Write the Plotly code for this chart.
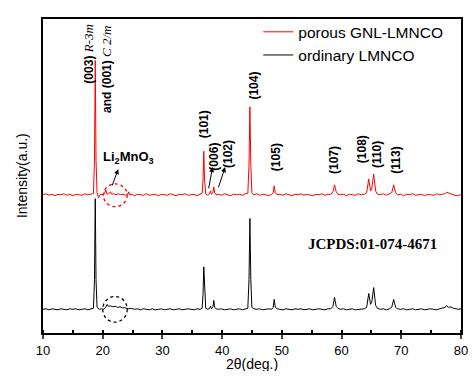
import plotly.graph_objects as go

# ---------------- data ----------------
# intensities are relative to each pattern's own baseline (a.u.)
black_2theta = [10, 10.5, 11, 11.5, 12, 12.5, 13, 13.5, 14, 14.5, 15, 15.5, 16, 16.5, 17, 17.5, 18,
                18.45, 18.62, 18.75, 18.88, 19.05, 19.4, 19.8, 20.2, 20.5, 20.75, 20.95, 21.3, 21.7,
                22.1, 22.5, 22.9, 23.3, 23.8, 24.3, 24.8, 25.3, 25.8, 26.3, 26.8, 27.3, 27.8, 28.3,
                28.8, 29.3, 29.8, 30.3, 30.8, 31.3, 31.8, 32.3, 32.8, 33.3, 33.8, 34.3, 34.8, 35.3,
                35.8, 36.3, 36.65, 36.8, 36.93, 37.06, 37.25, 37.6, 37.9, 38.05, 38.2, 38.45, 38.6,
                38.75, 39.0, 39.4, 39.9, 40.4, 40.9, 41.4, 41.9, 42.4, 42.9, 43.4, 43.9, 44.3, 44.5,
                44.65, 44.8, 44.98, 45.3, 45.8, 46.3, 46.8, 47.3, 47.8, 48.3, 48.55, 48.72, 48.9,
                49.2, 49.7, 50.2, 50.7, 51.2, 51.7, 52.2, 52.7, 53.2, 53.7, 54.2, 54.7, 55.2, 55.7,
                56.2, 56.7, 57.2, 57.7, 58.2, 58.55, 58.82, 59.1, 59.4, 59.8, 60.3, 60.8, 61.3,
                61.8, 62.3, 62.8, 63.3, 63.8, 64.2, 64.55, 64.85, 65.05, 65.38, 65.7, 66.0, 66.5,
                67, 67.5, 68, 68.4, 68.72, 69.05, 69.4, 69.9, 70.4, 70.9, 71.4, 71.9, 72.4, 72.9,
                73.4, 73.9, 74.4, 74.9, 75.4, 75.9, 76.4, 76.9, 77.3, 77.6, 77.9, 78.3, 78.7, 79.2,
                79.6, 80]
black_int = [0, 0.5, -0.5, 0.5, 0, -0.5, 0.5, 0, -0.5, 0.5, 0, 0.5, -0.5, 0, 0.5, -0.5, 0.5,
             1, 30, 112, 30, 2, 0, 0.5, 0, 2, 5, 3, 3.5, 2.5,
             3, 2, 2.5, 1.5, 1.5, 0.5, 1, 0, 0.5, -0.5, 0.5, 0, -0.5, 0.5,
             -0.5, 0, 0.5, -0.5, 0, 0.5, -0.5, 0, 0.5, -0.5, 0, 0.5, 0, -0.5,
             0.5, 0, 1, 15, 43, 15, 1, 0, 1, 3, 0.5, 2, 9,
             2, 0.5, 0, 0.5, -0.5, 0, 0.5, -0.5, 0, 0.5, -0.5, 0.5, 1, 30,
             92, 30, 2, 0.5, 0, 0.5, -0.5, 0, 0.5, 0, 2, 10, 2,
             0.5, 0, -0.5, 0.5, 0, -0.5, 0.5, 0, 0.5, -0.5, 0, 0.5, -0.5, 0,
             0.5, 0, -0.5, 0.5, 0.5, 3, 12, 3, 1, 0, 0.5, -0.5, 0,
             0.5, -0.5, 0, 0.5, 0.5, 2, 16, 5, 7, 22, 4, 1, 0,
             0.5, -0.5, 0.5, 2, 10, 2, 0.5, 0, 0.5, -0.5, 0, 0.5, -0.5, 0,
             0.5, -0.5, 0, 0.5, 0, -0.5, 0.5, 1, 2, 3.5, 2, 2.5, 1, 0.5,
             0, 0.5]

red_2theta = [10, 10.5, 11, 11.5, 12, 12.5, 13, 13.5, 14, 14.5, 15, 15.5, 16, 16.5, 17, 17.5, 18,
              18.45, 18.62, 18.75, 18.88, 19.05, 19.3, 19.6, 20.0, 20.3, 20.5, 20.7, 20.9, 21.1,
              21.3, 21.5, 21.8, 22.2, 22.6, 23.0, 23.4, 23.8, 24.2, 24.35, 24.5, 24.9, 25.3, 25.8,
              26.3, 26.8, 27.3, 27.8, 28.3, 28.8, 29.3, 29.8, 30.3, 30.8, 31.3, 31.8, 32.3, 32.8,
              33.3, 33.8, 34.3, 34.8, 35.3, 35.8, 36.3, 36.65, 36.8, 36.93, 37.06, 37.25, 37.6,
              37.9, 38.05, 38.2, 38.45, 38.6, 38.75, 39.0, 39.4, 39.9, 40.4, 40.9, 41.4, 41.9,
              42.4, 42.9, 43.4, 43.9, 44.3, 44.5, 44.65, 44.8, 44.98, 45.3, 45.8, 46.3, 46.8,
              47.3, 47.8, 48.3, 48.55, 48.72, 48.9, 49.2, 49.7, 50.2, 50.7, 51.2, 51.7, 52.2,
              52.7, 53.2, 53.7, 54.2, 54.7, 55.2, 55.7, 56.2, 56.7, 57.2, 57.7, 58.2, 58.55,
              58.82, 59.1, 59.4, 59.8, 60.3, 60.8, 61.3, 61.8, 62.3, 62.8, 63.3, 63.8, 64.2,
              64.55, 64.85, 65.05, 65.38, 65.7, 66.0, 66.5, 67, 67.5, 68, 68.4, 68.72, 69.05,
              69.4, 69.9, 70.4, 70.9, 71.4, 71.9, 72.4, 72.9, 73.4, 73.9, 74.4, 74.9, 75.4, 75.9,
              76.4, 76.9, 77.3, 77.6, 77.9, 78.3, 78.7, 79.2, 79.6, 80]
red_int = [0, 1, -0.5, 0.5, -1, 0.5, 0, 1, -0.5, 0.5, -1, 0.5, 0, -0.5, 1, 0, 0.5,
           1.5, 35, 136, 35, 2, -3, 0.5, 0, 1, 5, 1, 0.5, 2,
           3, 0.5, 1, 0, 1, 0, 0.5, -0.5, 0.5, 3, 0, 0.5, -1, 0.5,
           0, -0.5, 1, -0.5, 0, 0.5, -1, 0.5, 0, -0.5, 1, 0, -1, 0.5,
           0, 1, -0.5, 0, 0.5, -1, 0.5, 1.5, 15, 44, 15, 1,
           -0.5, 1, 4, 0.5, 2, 8, 2, 0, 0.5, -0.5, 1, 0, -1, 0.5,
           0, 0.5, -0.5, 1, 1.5, 30, 89, 30, 2, 0, 1, -0.5, 0.5,
           0, -1, 0.5, 2, 9, 2, 0, 0.5, -0.5, 1, 0, -1, 0.5,
           0, 1, -0.5, 0.5, 0, -1, 0.5, 0, 1, -0.5, 0.5, 0.5, 3,
           10, 3, 0.5, 0, 0.5, -1, 0.5, 0, -0.5, 1, 0, 0.5, 2,
           16, 4, 6, 21, 4, 0.5, 0, 1, -0.5, 0.5, 2, 10, 2,
           0, 0.5, -1, 0.5, 0, 1, -0.5, 0, 0.5, -1, 0.5, 0, -0.5, 1,
           0, 0.5, 1, 2.5, 1.5, 1, 0, -1, -0.5, 0]

series_names = ["porous GNL-LMNCO", "ordinary LMNCO"]
series_colors = ["#ff0000", "#000000"]

peak_labels = ["(101)", "(006)", "(102)", "(104)", "(105)", "(107)", "(108)", "(110)", "(113)"]
peak_label_x = [36.9, 38.7, 41.1, 45.4, 49.0, 58.7, 63.4, 65.9, 69.2]
peak_label_y = [211, 179, 181, 251, 178, 175, 186, 181, 175]

x_ticks = [10, 20, 30, 40, 50, 60, 70, 80]

# vertical stacking of the two patterns (display offsets)
red_offset = 140
black_offset = 24

# ---------------- figure ----------------
FONT = "Arial, 'Liberation Sans', sans-serif"
SERIF = "'Times New Roman', 'Liberation Serif', serif"
IT = "<span style='font-family:Liberation Serif;font-size:13px'><i>{}</i></span>"

fig = go.Figure()
fig.add_trace(go.Scatter(x=red_2theta, y=[v + red_offset for v in red_int], mode="lines",
                         name=series_names[0], line=dict(color=series_colors[0], width=1)))
fig.add_trace(go.Scatter(x=black_2theta, y=[v + black_offset for v in black_int], mode="lines",
                         name=series_names[1], line=dict(color=series_colors[1], width=1)))

ann = []
for t, x, y in zip(peak_labels, peak_label_x, peak_label_y):
    ann.append(dict(x=x, y=y, text="<b>" + t + "</b>", textangle=-90, showarrow=False,
                    font=dict(family=FONT, size=12, color="black")))

ann.append(dict(x=17.55, y=283, textangle=-90, showarrow=False,
                text="<b>(003)</b> " + IT.format("R-3m"),
                font=dict(family=FONT, size=12, color="black")))
ann.append(dict(x=20.65, y=267, textangle=-90, showarrow=False,
                text="<b>and (001)</b> " + IT.format("C 2/m"),
                font=dict(family=FONT, size=12, color="black")))
ann.append(dict(x=24.3, y=178, showarrow=False,
                text="<b>Li<sub>2</sub>MnO<sub>3</sub></b>",
                font=dict(family=FONT, size=13, color="black")))
ann.append(dict(x=65.1, y=90, showarrow=False, text="<b>JCPDS:01-074-4671</b>",
                font=dict(family=SERIF, size=15, color="black")))

# axis titles
ann.append(dict(x=0.5, y=-0.099, xref="paper", yref="paper", showarrow=False,
                text="2θ(deg.)", yanchor="middle", font=dict(family=FONT, size=14, color="black")))
ann.append(dict(x=-0.05, y=0.5, xref="paper", yref="paper", showarrow=False, textangle=-90,
                text="Intensity(a.u.)", xanchor="center",
                font=dict(family=FONT, size=14, color="black")))

# arrows
for (tx, ty, hx, hy) in [(21.5, 148, 22.6, 166), (37.7, 145, 38.4, 168), (39.3, 146, 40.5, 168)]:
    ann.append(dict(x=hx, y=hy, ax=tx, ay=ty, xref="x", yref="y", axref="x", ayref="y",
                    text="", showarrow=True, arrowhead=2, arrowsize=1, arrowwidth=1,
                    arrowcolor="black"))

shapes = [
    dict(type="circle", xref="x", yref="y", x0=20.1, x1=24.1, y0=red_offset - 12,
         y1=red_offset + 11, line=dict(color="#ff0000", width=1.3, dash="dot")),
    dict(type="circle", xref="x", yref="y", x0=20.0, x1=24.1, y0=black_offset - 13,
         y1=black_offset + 13, line=dict(color="black", width=1.3, dash="dot")),
]

# the page body adds an 8px margin all round, so the figure is made smaller to fit the window
fig.update_layout(
    width=460, height=363,
    margin=dict(l=35, r=7, t=7, b=38),
    paper_bgcolor="white", plot_bgcolor="white",
    font=dict(family=FONT, size=13, color="black"),
    showlegend=True,
    legend=dict(x=0.515, y=1.012, xanchor="left", yanchor="top", bgcolor="rgba(0,0,0,0)",
                font=dict(family=FONT, size=15.5, color="black"), tracegroupgap=0),
    annotations=ann,
    shapes=shapes,
)
fig.update_xaxes(range=[10, 80], tickvals=x_ticks, ticks="outside", ticklen=4, tickwidth=1.5,
                 showline=True, linewidth=2, linecolor="black", mirror=True, showgrid=False,
                 zeroline=False, tickfont=dict(size=13), automargin=False,
                 ticklabeloverflow="allow",
                 minor=dict(dtick=5, tick0=15, ticks="inside", ticklen=3, tickwidth=1.5,
                            tickcolor="black", showgrid=False))
fig.update_yaxes(range=[0, 318], showticklabels=False, ticks="", showline=True, linewidth=2,
                 linecolor="black", mirror=True, showgrid=False, zeroline=False, automargin=False)

fig.write_html("out.html")
